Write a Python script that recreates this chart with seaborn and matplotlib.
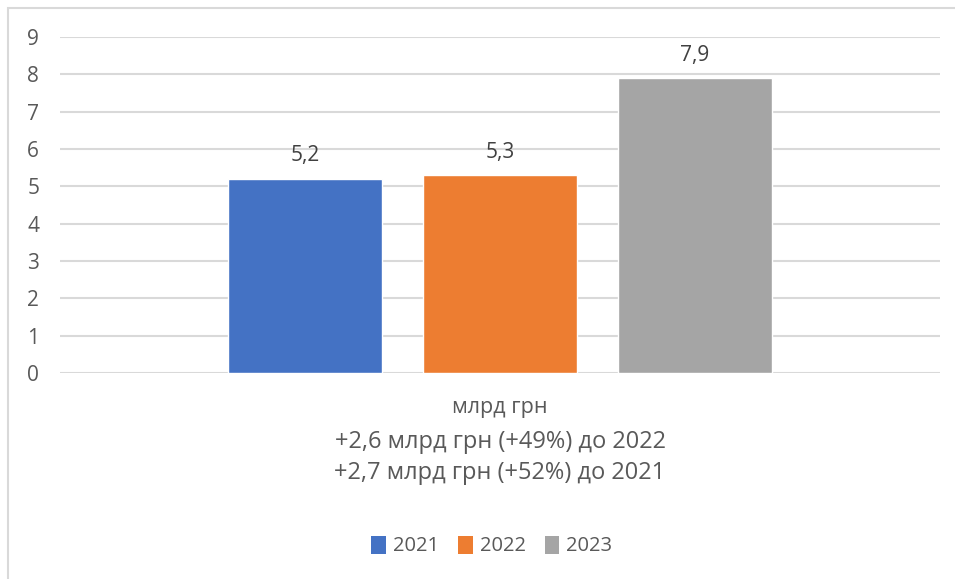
import pandas as pd
import seaborn as sns
import matplotlib.pyplot as plt
from matplotlib.patches import Rectangle, Patch

# дані
category = ["млрд грн"]
years = ["2021", "2022", "2023"]
values = [5.2, 5.3, 7.9]
colors = ["#4472C4", "#ED7D31", "#A5A5A5"]
notes = ["+2,6 млрд грн (+49%) до 2022", "+2,7 млрд грн (+52%) до 2021"]

df = pd.DataFrame({"cat": category * len(years), "year": years, "value": values})

sns.set_style("white")
plt.rcParams["font.family"] = ["Open Sans", "DejaVu Sans"]
text_color = "#595959"

fig = plt.figure(figsize=(9.55, 5.79), dpi=100)
W, H = 955, 579
ax = fig.add_axes([60 / W, 1 - 373 / H, 880 / W, 336 / H])

sns.barplot(data=df, x="cat", y="value", hue="year", palette=colors,
            width=0.665, gap=0.21, saturation=1, legend=False, ax=ax)

ax.set_xlim(-0.5, 0.5)
ax.set_ylim(0, 9)
ax.set_yticks(range(0, 10))
ax.grid(axis="y", color="#d9d9d9", linewidth=1.5)
ax.set_axisbelow(True)
for s in ax.spines.values():
    s.set_visible(False)
ax.tick_params(axis="y", length=0, pad=15, labelsize=15, labelcolor=text_color)
ax.tick_params(axis="x", length=0, pad=17, labelsize=15.5, labelcolor=text_color)
ax.set_xlabel("")
ax.set_ylabel("")

for cont in ax.containers:
    ax.bar_label(cont, labels=[f"{v:.1f}".replace(".", ",") for v in cont.datavalues],
                 padding=9, fontsize=15, color="#404040")

fig.text(500 / W, 1 - 442 / H, notes[0], ha="center", va="center", fontsize=17, color=text_color)
fig.text(500 / W, 1 - 473 / H, notes[1], ha="center", va="center", fontsize=17, color=text_color)

handles = [Patch(facecolor=c, edgecolor="none") for c in colors]
fig.legend(handles, years, loc="center", bbox_to_anchor=(492 / W, 1 - 546 / H), ncol=3,
           frameon=False, fontsize=14.5, labelcolor=text_color,
           handlelength=0.72, handleheight=1.0, handletextpad=0.35, columnspacing=0.95)

fig.patches.append(Rectangle((8 / W, -0.1), 1.2, 1 - 8 / H + 0.1, transform=fig.transFigure,
                             fill=False, edgecolor="#d9d9d9", linewidth=1.5))

fig.savefig("out.png", dpi=100)
